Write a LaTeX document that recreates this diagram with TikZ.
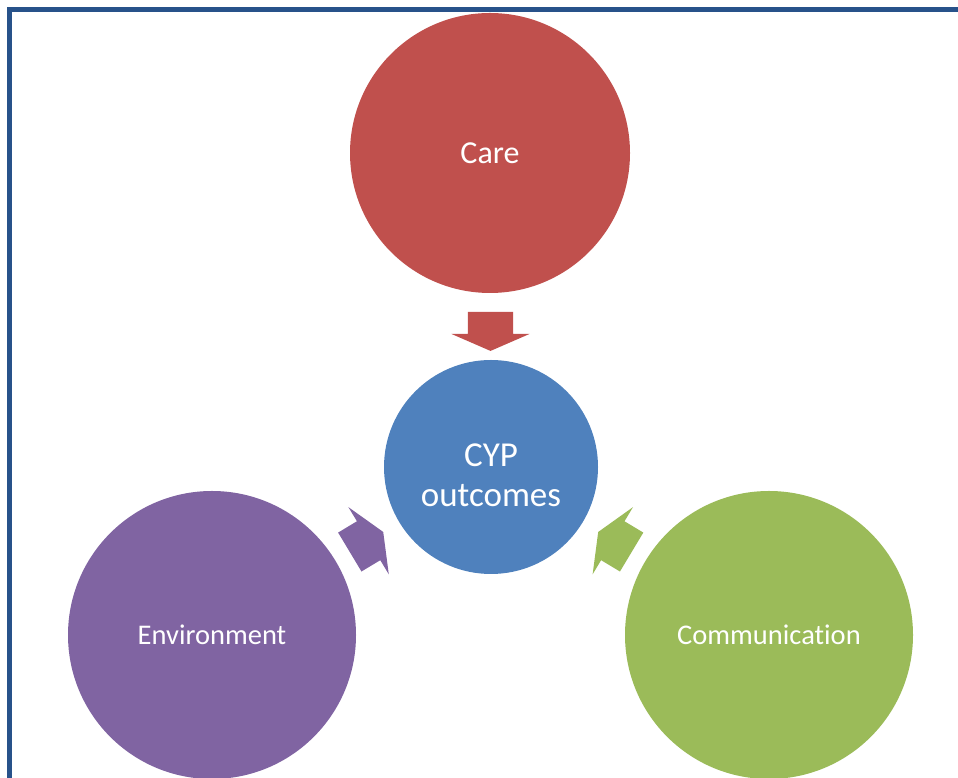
\documentclass[tikz,border=0pt]{standalone}
\usepackage{fontspec}
\setmainfont[Ligatures=NoCommon]{Carlito}
\usetikzlibrary{shapes.arrows,calc}
\definecolor{carered}{HTML}{C0504D}
\definecolor{cypblue}{HTML}{4F81BD}
\definecolor{envpurple}{HTML}{8064A2}
\definecolor{comgreen}{HTML}{9BBB59}
\definecolor{frameblue}{RGB}{40,82,138}
\begin{document}
\begin{tikzpicture}[x=1pt, y=1pt,
		topic/.style={circle, inner sep=0pt, text=white, align=center},
		flow/.style={single arrow, fill=#1, draw=none, inner xsep=0pt, inner ysep=22.5pt, minimum height=39pt, minimum width=78pt, single arrow head extend=16.5pt, single arrow tip angle=133}]
			\useasboundingbox (0,0) rectangle (958,778);
			\draw[frameblue, line width=4.4pt] (9.5,0) -- (9.5,768.5) -- (958,768.5);
			\node[topic, fill=carered, minimum size=280pt, font=\fontsize{32}{38}\selectfont] (care) at (490,625) {Care};
			\node[topic, fill=cypblue, minimum size=214pt, label={[text=white, align=center, yshift=-8pt, font=\fontsize{35}{40}\selectfont]center:CYP\\outcomes}] (cyp) at (491,311) {};
			\node[topic, fill=envpurple, minimum size=288pt, font=\fontsize{28.5}{34}\selectfont] (env) at (212,143) {Environment};
			\node[topic, fill=comgreen, minimum size=288pt, font=\fontsize{28.5}{34}\selectfont] (com) at (769,143) {Communication};
			\node[flow=carered, rotate=-90] (carearrow) at ($(care.south)!0.5!(cyp.north)$) {};
			\node[flow=envpurple, rotate=31] (envarrow) at ($(env.31)!0.42!(cyp.211)$) {};
			\node[flow=comgreen, rotate=149] (comarrow) at ($(com.149)!0.42!(cyp.329)$) {};
		\end{tikzpicture}
\end{document}
